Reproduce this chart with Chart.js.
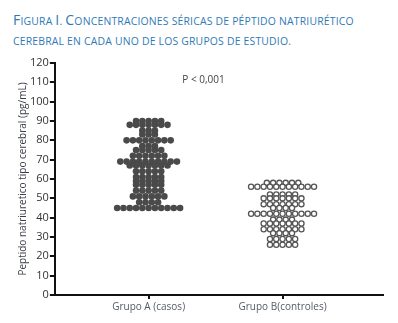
<!DOCTYPE html>
<html>
<head>
<meta charset="utf-8">
<script src="https://cdn.jsdelivr.net/npm/chart.js@4"></script>
<style>
  body { margin: 0; background: #fff; width: 398px; height: 323px; overflow: hidden; }
  #title {
    position: absolute; left: 13px; top: 10px; width: 350px;
    font-family: "Open Sans", sans-serif; font-size: 10.4px; line-height: 20px;
    text-transform: uppercase; color: #2f7ab6; letter-spacing: 0.2px;
  }
  #title b { font-weight: normal; font-size: 14px; }
  #wrap { position: absolute; left: 0; top: 0; width: 398px; height: 323px; }
</style>
</head>
<body>
<div id="title"><b>F</b>igura <b>I</b>. <b>C</b>oncentraciones séricas de péptido natriurético cerebral en cada uno de los grupos de estudio.</div>
<div id="wrap"><canvas id="chart"></canvas></div>
<script>
const groups = ["Grupo A (casos)", "Grupo B(controles)"];
const yTicks = [0, 10, 20, 30, 40, 50, 60, 70, 80, 90, 100, 110, 120];

// value levels and how many subjects sit on each level
const casosValues = [90, 88, 85, 83, 80, 77, 75, 72, 69, 67, 64, 61, 59, 57, 54, 51, 48, 45];
const casosCounts = [5, 7, 3, 3, 8, 3, 5, 6, 10, 7, 5, 5, 5, 5, 5, 6, 4, 11];
const controlesValues = [58, 56, 52, 50, 47, 45, 42, 39, 37, 34, 32, 29, 26];
const controlesCounts = [6, 11, 5, 7, 7, 4, 11, 4, 7, 7, 4, 5, 5];

const pText = "P < 0,001";

// spread identical values side by side (column scatter)
function swarm(center, values, counts) {
  const pts = [];
  const step = 0.047;
  values.forEach((v, k) => {
    const n = counts[k];
    for (let i = 0; i < n; i++) pts.push({ x: center + (i - (n - 1) / 2) * step, y: v });
  });
  return pts;
}

const pLabel = {
  id: "pLabel",
  afterDatasetsDraw(chart) {
    const { ctx, scales } = chart;
    ctx.save();
    ctx.font = "10px 'Open Sans', sans-serif";
    ctx.fillStyle = "#444";
    ctx.textAlign = "center";
    ctx.textBaseline = "middle";
    ctx.fillText(pText, scales.x.getPixelForValue(1.41), scales.y.getPixelForValue(111));
    ctx.restore();
  }
};

const ctx = document.getElementById("chart").getContext("2d");
new Chart(ctx, {
  type: "scatter",
  data: {
    datasets: [
      {
        data: swarm(1, casosValues, casosCounts),
        pointRadius: 3.3,
        pointBackgroundColor: "#4a4a4a",
        pointBorderColor: "#4a4a4a",
        pointBorderWidth: 0
      },
      {
        data: swarm(2, controlesValues, controlesCounts),
        pointRadius: 2.6,
        pointBackgroundColor: "#fff",
        pointBorderColor: "#555",
        pointBorderWidth: 1.3
      }
    ]
  },
  plugins: [pLabel],
  options: {
    responsive: true,
    maintainAspectRatio: false,
    animation: false,
    layout: { padding: { left: 17, right: 15, top: 63, bottom: 8 } },
    plugins: { legend: { display: false }, tooltip: { enabled: false } },
    scales: {
      x: {
        type: "linear",
        min: 0.3,
        max: 2.75,
        afterBuildTicks: (s) => { s.ticks = [{ value: 1 }, { value: 2 }]; },
        border: { color: "#111", width: 2 },
        grid: { drawOnChartArea: false, tickLength: 4, color: "#111", lineWidth: 2 },
        ticks: {
          callback: (v) => groups[v - 1],
          font: { family: "'Open Sans', sans-serif", size: 10 },
          color: "#555a66",
          padding: 2
        }
      },
      y: {
        min: 0,
        max: 120,
        afterBuildTicks: (s) => { s.ticks = yTicks.map(v => ({ value: v })); },
        border: { color: "#111", width: 2 },
        grid: { drawOnChartArea: false, tickLength: 5, color: "#111", lineWidth: 2 },
        ticks: {
          font: { family: "'Open Sans', sans-serif", size: 11 },
          color: "#333",
          padding: 1
        },
        title: {
          display: true,
          text: "Peptido natriuretico tipo cerebral (pg/mL)",
          font: { family: "'Open Sans', sans-serif", size: 10 },
          color: "#3a3d4a",
          padding: 0
        }
      }
    }
  }
});
</script>
</body>
</html>
